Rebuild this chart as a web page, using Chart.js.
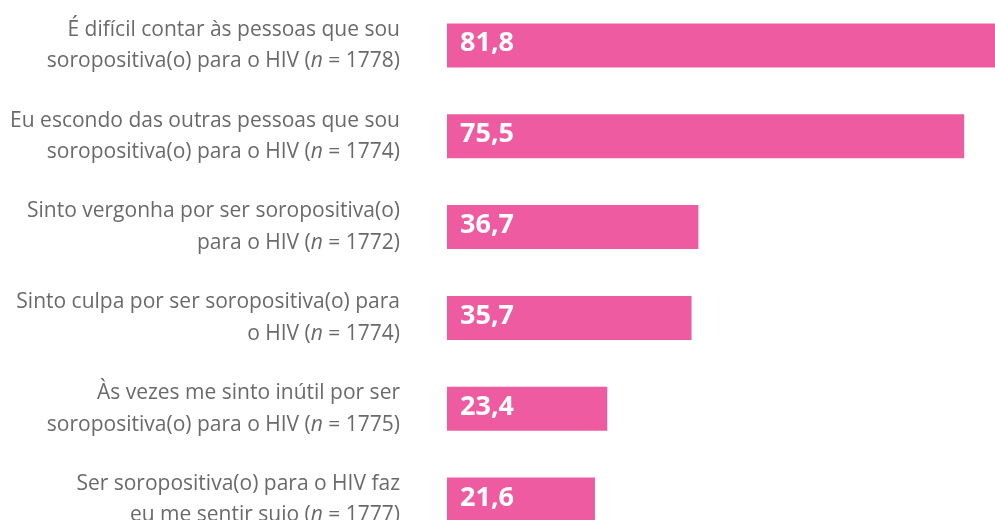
<!DOCTYPE html>
<html lang="pt">
<head>
<meta charset="utf-8">
<title>Estigma internalizado</title>
<script src="https://cdn.jsdelivr.net/npm/chart.js@4"></script>
<style>
  html, body { margin: 0; padding: 0; background: #fff; overflow: hidden; }
  #caixa { position: relative; width: 995px; height: 545px; }
</style>
</head>
<body>
<div id="caixa"><canvas id="grafico"></canvas></div>
<script>
// Categorias (cada uma em duas linhas) e valores (%)
const categorias = [
  ["É difícil contar às pessoas que sou", "soropositiva(o) para o HIV (n = 1778)"],
  ["Eu escondo das outras pessoas que sou", "soropositiva(o) para o HIV (n = 1774)"],
  ["Sinto vergonha por ser soropositiva(o)", "para o HIV (n = 1772)"],
  ["Sinto culpa por ser soropositiva(o) para", "o HIV (n = 1774)"],
  ["Às vezes me sinto inútil por ser", "soropositiva(o) para o HIV (n = 1775)"],
  ["Ser soropositiva(o) para o HIV faz", "eu me sentir sujo (n = 1777)"],
];
const valores = [81.8, 75.5, 36.7, 35.7, 23.4, 21.6];

const ROSA = "#EF5BA1";
const CINZA = "#6a6a6c";
const FONTE = "'Open Sans', 'Noto Sans', sans-serif";

// Rótulos do eixo com o "n" em itálico
const rotulosEixo = {
  id: "rotulosEixo",
  afterDraw(chart) {
    const ctx = chart.ctx;
    const eixo = chart.scales.y;
    const direita = eixo.right - 47;
    const entreLinhas = 31.5;
    ctx.save();
    ctx.fillStyle = CINZA;
    ctx.textBaseline = "alphabetic";
    ctx.textAlign = "left";
    categorias.forEach((linhas, i) => {
      const centro = eixo.getPixelForValue(i);
      linhas.forEach((linha, j) => {
        const base = centro + (j - (linhas.length - 1) / 2) * entreLinhas + 6;
        let partes = [[linha, false]];
        const k = linha.indexOf("(n = ");
        if (k >= 0) {
          partes = [
            [linha.slice(0, k + 1), false],
            ["n", true],
            [linha.slice(k + 2), false],
          ];
        }
        let largura = 0;
        partes.forEach((p) => {
          ctx.font = (p[1] ? "italic " : "") + "21px " + FONTE;
          largura += ctx.measureText(p[0]).width;
        });
        let x = direita - largura;
        partes.forEach((p) => {
          ctx.font = (p[1] ? "italic " : "") + "21px " + FONTE;
          ctx.fillText(p[0], x, base);
          x += ctx.measureText(p[0]).width;
        });
      });
    });
    ctx.restore();
  },
};

// Valores em branco dentro das barras
const valoresBarras = {
  id: "valoresBarras",
  afterDatasetsDraw(chart) {
    const ctx = chart.ctx;
    const meta = chart.getDatasetMeta(0);
    ctx.save();
    ctx.fillStyle = "#fff";
    ctx.font = "bold 27px " + FONTE;
    ctx.textAlign = "left";
    ctx.textBaseline = "alphabetic";
    meta.data.forEach((barra, i) => {
      const texto = valores[i].toFixed(1).replace(".", ",");
      ctx.fillText(texto, barra.base + 13, barra.y + 6);
    });
    ctx.restore();
  },
};

new Chart(document.getElementById("grafico"), {
  type: "bar",
  data: {
    labels: categorias,
    datasets: [
      {
        data: valores,
        backgroundColor: ROSA,
        borderWidth: 0,
        categoryPercentage: 1,
        barPercentage: 0.485,
      },
    ],
  },
  options: {
    indexAxis: "y",
    responsive: true,
    maintainAspectRatio: false,
    animation: false,
    layout: { padding: 0 },
    plugins: {
      legend: { display: false },
      tooltip: { enabled: false },
    },
    scales: {
      x: {
        display: false,
        min: 0,
        max: 80,
      },
      y: {
        grid: { display: false, drawTicks: false },
        border: { display: false },
        ticks: { display: false },
        afterFit: (eixo) => {
          eixo.width = 447;
        },
      },
    },
  },
  plugins: [rotulosEixo, valoresBarras],
});
</script>
</body>
</html>
